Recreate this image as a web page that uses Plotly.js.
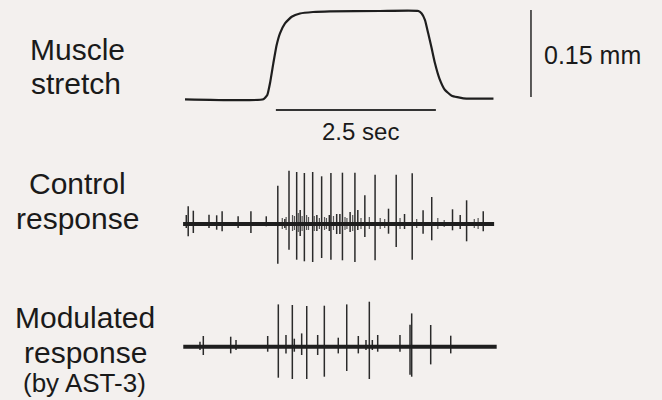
<!DOCTYPE html>
<html>
<head>
<meta charset="utf-8">
<script src="https://cdn.plot.ly/plotly-3.0.1.min.js"></script>
<style>
  html, body { margin: 0; padding: 0; background: #f3f0ee; }
  #chart { width: 662px; height: 400px; }
</style>
</head>
<body>
<div id="chart"></div>
<script>
// ---------------- DATA ----------------
// Muscle stretch (time in s, length change in mm)
const stretchTime = [0, 1.224, 1.286, 1.328, 1.38, 1.432, 1.484, 1.5625, 1.667, 1.797, 2.0, 2.266, 3.047, 3.646, 3.698, 3.75, 3.80, 3.854, 3.906, 3.974, 4.0625, 4.167, 4.35, 4.82];
const stretchMm   = [0, 0, 0.0074, 0.0276, 0.062, 0.0936, 0.1138, 0.131, 0.1424, 0.148, 0.1505, 0.1517, 0.1522, 0.1522, 0.148, 0.1367, 0.1138, 0.088, 0.062, 0.0362, 0.016, 0.0062, 0.0017, 0.001];

// Control response spikes (time s, upward / downward amplitude, a.u.)
const ctrlTime = [0.02,0.05,0.13,0.375,0.495,0.58,0.83,1.03,1.27,1.45,1.56,1.625,1.745,1.80,1.865,1.995,2.06,2.135,2.255,2.28,2.37,2.42,2.46,2.58,2.655,2.70,2.81,2.97,3.18,3.30,3.43,3.55,3.72,3.855,4.18,4.30,4.40,4.66];
const ctrlUp   = [9,17.7,13.3,9.3,8.7,12.7,7.7,12.7,7.7,38.3,5,53.3,52,14,51,52,9,47.7,9,51,10,10,51.3,12,51.3,14,28.7,49.3,15.3,49.3,10,50.7,13.7,27,14.7,9,23.7,12.7];
const ctrlDown = [4,12.3,9,4,5.7,7.3,4,9,2.3,39.7,4,25.7,35.7,12,37.3,38,7,34,7,35.7,10,10,36.3,8,38,6,13,36.3,9.7,23,5,35.7,9.7,16.3,6.3,5,17.3,7.3];
// small background activity in the control trace
const ctrlNoiseTime = [1.52,1.58,1.68,1.71,1.77,1.83,1.90,1.93,2.02,2.10,2.18,2.21,2.32,2.50,2.53,2.62,2.75,2.88,3.05,3.12,3.36,3.62,3.95,4.05,4.52,4.58];
const ctrlNoiseUp   = [6,7,9,8,11,8,9,7,8,6,7,6,8,7,6,9,6,7,6,5,6,5,6,4,5,6];
const ctrlNoiseDown = [5,6,7,6,8,7,6,6,7,5,6,5,6,6,5,7,5,5,5,4,5,4,5,3,4,5];
const ctrlStart = -0.03, ctrlEnd = 4.83;

// Modulated response (by AST-3) spikes
const modTime = [0.234,0.286,0.714,0.797,1.292,1.458,1.578,1.677,1.708,1.823,1.902,2.073,2.177,2.395,2.527,2.708,2.828,2.880,2.927,3.011,3.359,3.516,3.542,3.839,4.152];
const modUp   = [5,10.7,10,6.7,10.7,42.3,11.7,41.7,8,13.3,40.7,11.7,41,9,42.3,10.7,6.7,45,6.7,11.7,11.7,22,33.3,21.7,11];
const modDown = [3.3,8.3,6.7,3.3,5,31,6.7,32.3,5,8.3,32.3,8.3,30,6.7,24.3,6.7,3.3,32.3,3.3,5,5,28,30,17.7,6.7];
const modStart = -0.027, modEnd = 4.87;

// Scale bars
const timeBarSec = 2.5;
const lengthBarMm = 0.15;

// ---------------- BUILD ----------------
function spikeXY(ts, ups, downs) {
  const x = [], y = [];
  for (let i = 0; i < ts.length; i++) {
    x.push(ts[i], ts[i], null);
    y.push(ups[i], -downs[i], null);
  }
  return {x, y};
}

const ink = '#1e1e1e';
const c1 = spikeXY(ctrlTime, ctrlUp, ctrlDown);
const c1n = spikeXY(ctrlNoiseTime, ctrlNoiseUp, ctrlNoiseDown);
const m1 = spikeXY(modTime, modUp, modDown);

const timeBarStart = 1.42, timeBarY = -0.0184;
const lenBarT = 5.406, lenBarBottom = 0.004;

const traces = [
  {x: stretchTime, y: stretchMm, mode: 'lines', line: {color: ink, width: 2.2, shape: 'spline', smoothing: 0.4}, xaxis: 'x', yaxis: 'y', hoverinfo: 'skip'},
  {x: [timeBarStart, timeBarStart + timeBarSec], y: [timeBarY, timeBarY], mode: 'lines', line: {color: '#333', width: 2}, xaxis: 'x', yaxis: 'y', hoverinfo: 'skip'},
  {x: [lenBarT, lenBarT], y: [lenBarBottom, lenBarBottom + lengthBarMm], mode: 'lines', line: {color: '#333', width: 1.6}, xaxis: 'x', yaxis: 'y', hoverinfo: 'skip'},

  {x: c1n.x, y: c1n.y, mode: 'lines', line: {color: '#555', width: 1.2}, xaxis: 'x', yaxis: 'y2', connectgaps: false, hoverinfo: 'skip'},
  {x: c1.x, y: c1.y, mode: 'lines', line: {color: '#2a2a2a', width: 1.5}, xaxis: 'x', yaxis: 'y2', connectgaps: false, hoverinfo: 'skip'},
  {x: [ctrlStart, ctrlEnd], y: [0, 0], mode: 'lines', line: {color: ink, width: 4}, xaxis: 'x', yaxis: 'y2', hoverinfo: 'skip'},

  {x: m1.x, y: m1.y, mode: 'lines', line: {color: '#2a2a2a', width: 1.5}, xaxis: 'x', yaxis: 'y3', connectgaps: false, hoverinfo: 'skip'},
  {x: [modStart, modEnd], y: [0, 0], mode: 'lines', line: {color: ink, width: 4}, xaxis: 'x', yaxis: 'y3', hoverinfo: 'skip'}
];

// pixel helpers for annotation placement (layout only)
const W = 662, H = 400;
const px = v => v / W, py = v => 1 - v / H;
const font = 'Liberation Sans, Arial, Helvetica, sans-serif';
function label(text, cx, cy, size, anchor) {
  return {text, x: px(cx), y: py(cy), xref: 'paper', yref: 'paper', xanchor: anchor || 'center', yanchor: 'middle',
          showarrow: false, font: {family: font, size: size, color: '#1a1a1a'}};
}

const layout = {
  width: W, height: H,
  margin: {l: 0, r: 0, t: 0, b: 0},
  paper_bgcolor: '#f3f0ee', plot_bgcolor: '#f3f0ee',
  showlegend: false,
  xaxis: {range: [-185 / 64, (662 - 185) / 64], visible: false, fixedrange: true},
  yaxis: {range: [(99.3 - 400) / 580, 99.3 / 580], visible: false, fixedrange: true},
  yaxis2: {range: [-(400 - 224), 224], overlaying: 'y', visible: false, fixedrange: true},
  yaxis3: {range: [-(400 - 346.7), 346.7], overlaying: 'y', visible: false, fixedrange: true},
  annotations: [
    label('Muscle', 77, 49, 30),
    label('stretch', 76, 84, 30),
    label('Control', 77, 183, 30),
    label('response', 77, 218, 30),
    label('Modulated', 85, 317, 30),
    label('response', 85, 352, 30),
    label('(by AST-3)', 84, 383, 26),
    label('2.5 sec', 361, 131.5, 24),
    label('0.15 mm', 542, 55, 25, 'left')
  ]
};

Plotly.newPlot('chart', traces, layout, {staticPlot: true, displayModeBar: false});
</script>
</body>
</html>
